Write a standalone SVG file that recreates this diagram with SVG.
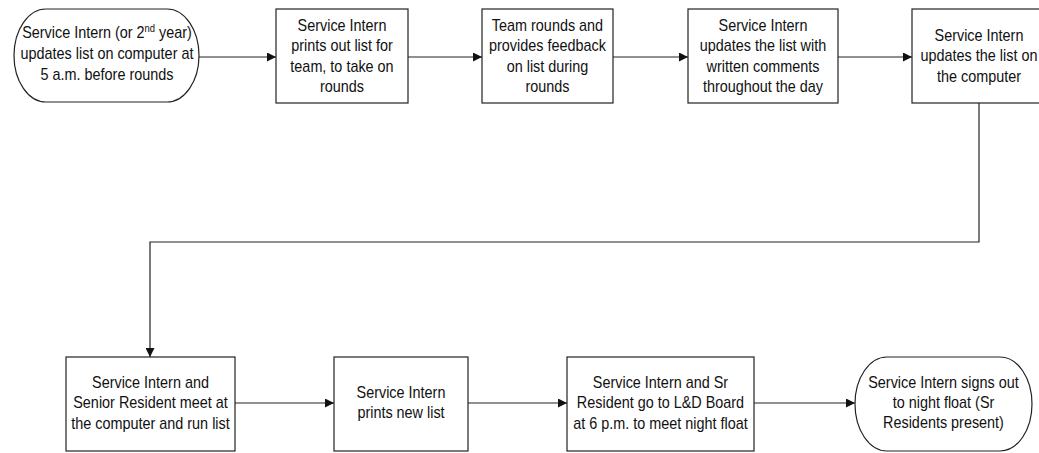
<svg xmlns="http://www.w3.org/2000/svg" width="1039" height="453" viewBox="0 0 1039 453">
<style>
.box{fill:#fff;stroke:#222;stroke-width:1.2}
.lbl{font-family:"Liberation Sans",Arial,sans-serif;font-size:16px;fill:#111;text-anchor:middle}
.con{fill:none;stroke:#222;stroke-width:1.2}
</style>
<defs>
<marker id="arr" viewBox="0 0 10 10" refX="10" refY="5" markerWidth="10" markerHeight="9" markerUnits="userSpaceOnUse" orient="auto">
<path d="M0,0 L10,5 L0,10 Z" fill="#111"/>
</marker>
</defs>
<rect width="1039" height="453" fill="#fff"/>
<g id="connectors">
<line class="con" x1="199" y1="57" x2="276" y2="57" marker-end="url(#arr)"/>
<line class="con" x1="408" y1="57" x2="482" y2="57" marker-end="url(#arr)"/>
<line class="con" x1="613" y1="57" x2="688" y2="57" marker-end="url(#arr)"/>
<line class="con" x1="838" y1="57" x2="912" y2="57" marker-end="url(#arr)"/>
<polyline class="con" points="979,103 979,242 150,242 150,357" marker-end="url(#arr)"/>
<line class="con" x1="235" y1="403" x2="334" y2="403" marker-end="url(#arr)"/>
<line class="con" x1="468" y1="403" x2="567" y2="403" marker-end="url(#arr)"/>
<line class="con" x1="754" y1="403" x2="855" y2="403" marker-end="url(#arr)"/>
</g>
<g id="n1">
<rect class="box" x="14" y="9" width="185" height="93" rx="32" ry="46.5"/>
<g transform="matrix(0.9 0 0 1 10.7 0)">
<text class="lbl" x="107" y="38">Service Intern (or 2<tspan font-size="10.5" dy="-6">nd</tspan><tspan dy="6"> year)</tspan></text>
<text class="lbl" x="107" y="59">updates list on computer at</text>
<text class="lbl" x="107" y="80">5 a.m. before rounds</text>
</g>
</g>
<g id="n2">
<rect class="box" x="276" y="9" width="132" height="94"/>
<g transform="matrix(0.9 0 0 1 34.2 0)">
<text class="lbl" x="342" y="31">Service Intern</text>
<text class="lbl" x="342" y="51.5">prints out list for</text>
<text class="lbl" x="342" y="72">team, to take on</text>
<text class="lbl" x="342" y="92.5">rounds</text>
</g>
</g>
<g id="n3">
<rect class="box" x="482" y="9" width="131" height="94"/>
<g transform="matrix(0.9 0 0 1 54.75 0)">
<text class="lbl" x="547.5" y="31">Team rounds and</text>
<text class="lbl" x="547.5" y="51.5">provides feedback</text>
<text class="lbl" x="547.5" y="72">on list during</text>
<text class="lbl" x="547.5" y="92.5">rounds</text>
</g>
</g>
<g id="n4">
<rect class="box" x="688" y="9" width="150" height="94"/>
<g transform="matrix(0.9 0 0 1 76.3 0)">
<text class="lbl" x="763" y="31">Service Intern</text>
<text class="lbl" x="763" y="51.5">updates the list with</text>
<text class="lbl" x="763" y="72">written comments</text>
<text class="lbl" x="763" y="92.5">throughout the day</text>
</g>
</g>
<g id="n5">
<rect class="box" x="912" y="9" width="134" height="94"/>
<g transform="matrix(0.9 0 0 1 97.9 0)">
<text class="lbl" x="979" y="41">Service Intern</text>
<text class="lbl" x="979" y="61.5">updates the list on</text>
<text class="lbl" x="979" y="82">the computer</text>
</g>
</g>
<g id="n6">
<rect class="box" x="66" y="357" width="169" height="94"/>
<g transform="matrix(0.9 0 0 1 15.05 0)">
<text class="lbl" x="150.5" y="388">Service Intern and</text>
<text class="lbl" x="150.5" y="408.5">Senior Resident meet at</text>
<text class="lbl" x="150.5" y="429">the computer and run list</text>
</g>
</g>
<g id="n7">
<rect class="box" x="334" y="357" width="134" height="94"/>
<g transform="matrix(0.9 0 0 1 40.1 0)">
<text class="lbl" x="401" y="398">Service Intern</text>
<text class="lbl" x="401" y="418.5">prints new list</text>
</g>
</g>
<g id="n8">
<rect class="box" x="567" y="357" width="187" height="94"/>
<g transform="matrix(0.9 0 0 1 66.05 0)">
<text class="lbl" x="660.5" y="388">Service Intern and Sr</text>
<text class="lbl" x="660.5" y="408.5">Resident go to L&amp;D Board</text>
<text class="lbl" x="660.5" y="429">at 6 p.m. to meet night float</text>
</g>
</g>
<g id="n9">
<rect class="box" x="855" y="357" width="177" height="94" rx="32" ry="47"/>
<g transform="matrix(0.9 0 0 1 94.35 0)">
<text class="lbl" x="943.5" y="388">Service Intern signs out</text>
<text class="lbl" x="943.5" y="408">to night float (Sr</text>
<text class="lbl" x="943.5" y="428">Residents present)</text>
</g>
</g>
</svg>
